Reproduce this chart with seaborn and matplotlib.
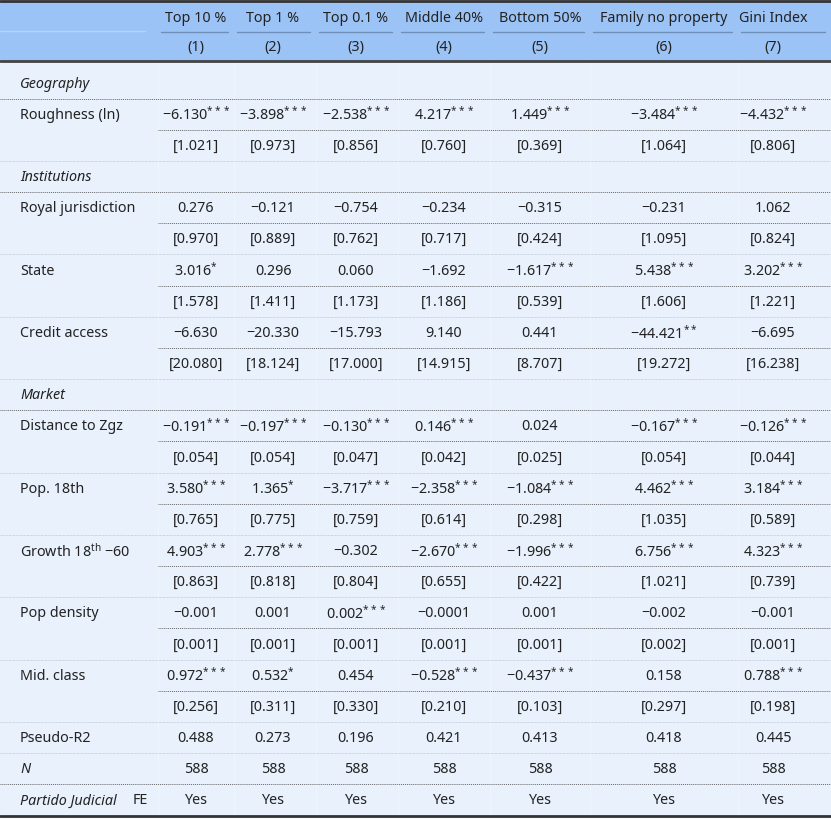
import matplotlib.pyplot as plt
import seaborn as sns

sns.set_theme(style="white")
plt.rcParams['font.family'] = ['Noto Sans', 'DejaVu Sans']
plt.rcParams['mathtext.fontset'] = 'custom'
plt.rcParams['mathtext.rm'] = 'Noto Sans'

# column headers
headers = ["Top 10 %", "Top 1 %", "Top 0.1 %", "Middle 40%", "Bottom 50%", "Family no property", "Gini Index"]
numbers = ["(1)", "(2)", "(3)", "(4)", "(5)", "(6)", "(7)"]

# rows: (label, kind, values) kind: cat / coef / se / stat
rows = [
    ("Geography", "cat", None),
    ("Roughness (ln)", "coef", ["−6.130***", "−3.898***", "−2.538***", "4.217***", "1.449***", "−3.484***", "−4.432***"]),
    ("", "se", ["[1.021]", "[0.973]", "[0.856]", "[0.760]", "[0.369]", "[1.064]", "[0.806]"]),
    ("Institutions", "cat", None),
    ("Royal jurisdiction", "coef", ["0.276", "−0.121", "−0.754", "−0.234", "−0.315", "−0.231", "1.062"]),
    ("", "se", ["[0.970]", "[0.889]", "[0.762]", "[0.717]", "[0.424]", "[1.095]", "[0.824]"]),
    ("State", "coef", ["3.016*", "0.296", "0.060", "−1.692", "−1.617***", "5.438***", "3.202***"]),
    ("", "se", ["[1.578]", "[1.411]", "[1.173]", "[1.186]", "[0.539]", "[1.606]", "[1.221]"]),
    ("Credit access", "coef", ["−6.630", "−20.330", "−15.793", "9.140", "0.441", "−44.421**", "−6.695"]),
    ("", "se", ["[20.080]", "[18.124]", "[17.000]", "[14.915]", "[8.707]", "[19.272]", "[16.238]"]),
    ("Market", "cat", None),
    ("Distance to Zgz", "coef", ["−0.191***", "−0.197***", "−0.130***", "0.146***", "0.024", "−0.167***", "−0.126***"]),
    ("", "se", ["[0.054]", "[0.054]", "[0.047]", "[0.042]", "[0.025]", "[0.054]", "[0.044]"]),
    ("Pop. 18th", "coef", ["3.580***", "1.365*", "−3.717***", "−2.358***", "−1.084***", "4.462***", "3.184***"]),
    ("", "se", ["[0.765]", "[0.775]", "[0.759]", "[0.614]", "[0.298]", "[1.035]", "[0.589]"]),
    ("Growth 18$^{\\mathrm{th}}$ −60", "coef", ["4.903***", "2.778***", "−0.302", "−2.670***", "−1.996***", "6.756***", "4.323***"]),
    ("", "se", ["[0.863]", "[0.818]", "[0.804]", "[0.655]", "[0.422]", "[1.021]", "[0.739]"]),
    ("Pop density", "coef", ["−0.001", "0.001", "0.002***", "−0.0001", "0.001", "−0.002", "−0.001"]),
    ("", "se", ["[0.001]", "[0.001]", "[0.001]", "[0.001]", "[0.001]", "[0.002]", "[0.001]"]),
    ("Mid. class", "coef", ["0.972***", "0.532*", "0.454", "−0.528***", "−0.437***", "0.158", "0.788***"]),
    ("", "se", ["[0.256]", "[0.311]", "[0.330]", "[0.210]", "[0.103]", "[0.297]", "[0.198]"]),
    ("Pseudo-R2", "stat", ["0.488", "0.273", "0.196", "0.421", "0.413", "0.418", "0.445"]),
    ("N", "italic", ["588"] * 7),
    ("Partido Judicial FE", "fe", ["Yes"] * 7),
]

col_x = [196, 273, 356, 444, 540, 664, 773]
col_edges = [158, 234, 316, 398, 490, 590, 738, 831]

W, H = 831, 820
fig = plt.figure(figsize=(W / 100, H / 100), dpi=100)
ax = fig.add_axes([0, 0, 1, 1])
ax.set_xlim(0, W)
ax.set_ylim(H, 0)
ax.axis("off")

bg = "#E8F1FC"
hdr = "#9CC3F5"
ink = "#222222"
fs = 10.3

ax.add_patch(plt.Rectangle((0, 0), W, 818, color=bg, zorder=0))
ax.add_patch(plt.Rectangle((0, 2), W, 60, color=hdr, zorder=0))
ax.plot([0, W], [2, 2], color="#333333", lw=2)
ax.plot([0, W], [62, 62], color="#444444", lw=2)
ax.plot([0, W], [817, 817], color="#333333", lw=2)
ax.plot([0, 145], [32, 32], color="#b8d3f7", lw=1)

# faint column separators
for xe in col_edges[:-1]:
    ax.plot([xe, xe], [62, 817], color="white", lw=0.6, alpha=0.35, zorder=1)


def fmt(v):
    if "*" in v:
        base = v.rstrip("*")
        stars = v[len(base):]
        return base + "$^{" + stars + "}$"
    return v


for j, (h, n) in enumerate(zip(headers, numbers)):
    ax.text(col_x[j], 18, h, ha="center", va="center", fontsize=fs, color=ink)
    ax.text(col_x[j], 47, n, ha="center", va="center", fontsize=fs, color=ink)
    ax.plot([col_edges[j] + 3, col_edges[j + 1] - 6], [33, 33], color="#6f8fb8", lw=1)

y0, dy = 84, 31.17
for i, (label, kind, vals) in enumerate(rows):
    y = y0 + i * dy
    if kind == "fe":
        t = ax.text(20, y, "Partido Judicial", ha="left", va="center", fontsize=fs, style="italic", color=ink)
        ax.text(133, y, "FE", ha="left", va="center", fontsize=fs, color=ink)
    else:
        ax.text(20, y, label, ha="left", va="center", fontsize=fs, color=ink,
                style="italic" if kind in ("cat", "italic") else "normal")
    if vals:
        for j, v in enumerate(vals):
            ax.text(col_x[j], y, fmt(v), ha="center", va="center", fontsize=fs, color=ink)
    if i < len(rows) - 1:
        yl = y + dy / 2
        if kind == "coef":
            ax.plot([158, W], [yl, yl], color="#666666", lw=0.7, ls=(0, (1, 1)))
        elif kind in ("cat", "italic"):
            ax.plot([0, W], [yl, yl], color="#666666", lw=0.7, ls=(0, (1, 1)))
        else:
            ax.plot([0, W], [yl, yl], color="#b0bac6", lw=0.5, ls=(0, (1, 1)))

fig.savefig("out.png", dpi=100)
